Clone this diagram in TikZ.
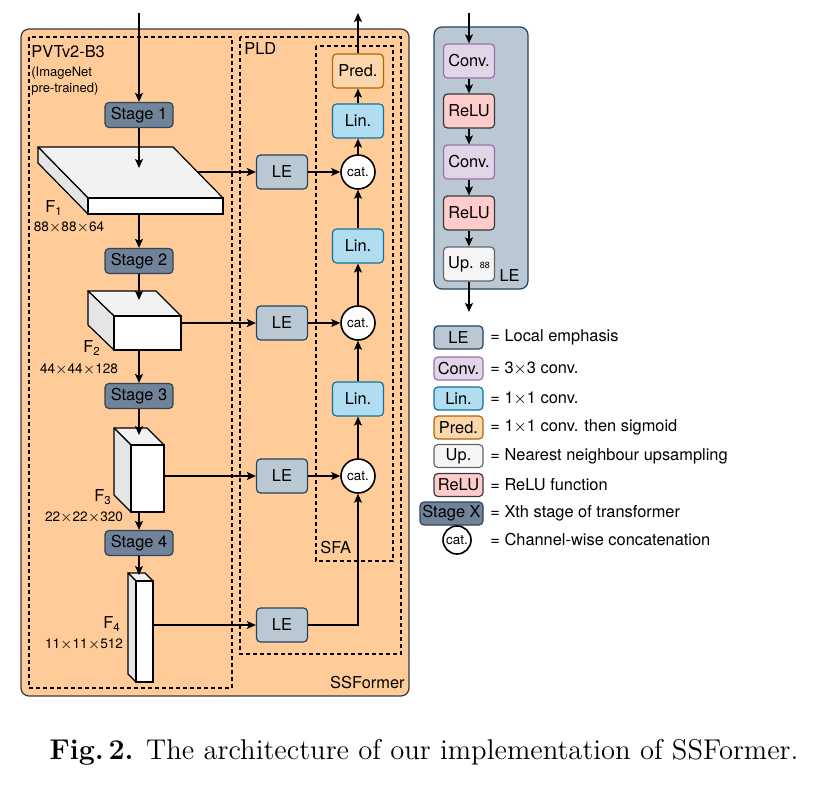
\documentclass[tikz,border=0pt]{standalone}
\usepackage{fontspec}
\setsansfont{TeX Gyre Heros}
\usetikzlibrary{arrows.meta}

\definecolor{ssfill}{HTML}{FFCC99}
\definecolor{ssline}{HTML}{36393D}
\definecolor{stagefill}{RGB}{112,131,153}
\definecolor{stageline}{HTML}{314354}
\definecolor{lefill}{HTML}{BAC8D3}
\definecolor{leline}{HTML}{23445D}
\definecolor{linfill}{HTML}{B1DDF0}
\definecolor{linline}{HTML}{10739E}
\definecolor{predfill}{HTML}{FAD7AC}
\definecolor{predline}{HTML}{B46504}
\definecolor{convfill}{HTML}{E1D5E7}
\definecolor{convline}{HTML}{9673A6}
\definecolor{relufill}{HTML}{FFCCCC}
\definecolor{reluline}{HTML}{36393D}
\definecolor{upfill}{HTML}{F5F5F5}
\definecolor{upline}{HTML}{666666}

\begin{document}
\begin{tikzpicture}[x=0.5pt,y=-0.5pt,
    every node/.style={font=\sffamily\fontsize{8.2}{9.8}\selectfont, inner sep=0pt},
    blockbox/.style={draw, rounded corners=2pt, line width=0.6pt, minimum width=25.5pt, minimum height=17pt},
    stagebox/.style={blockbox, fill=stagefill, draw=stageline, minimum width=34pt, minimum height=12.5pt},
    lebox/.style={blockbox, fill=lefill, draw=leline},
    linbox/.style={blockbox, fill=linfill, draw=linline},
    predbox/.style={blockbox, fill=predfill, draw=predline},
    convbox/.style={blockbox, fill=convfill, draw=convline},
    relubox/.style={blockbox, fill=relufill, draw=reluline},
    upbox/.style={blockbox, fill=upfill, draw=upline},
    legbox/.style={minimum width=24.5pt, minimum height=11.5pt},
    catnode/.style={circle, draw, fill=white, line width=0.8pt, minimum size=17pt, font=\sffamily\fontsize{6.7}{8}\selectfont},
    dimtext/.style={font=\sffamily\fontsize{6.8}{8}\selectfont},
    legtext/.style={anchor=west},
    link/.style={-{Stealth[length=4.5pt,width=4pt,inset=1pt]}, line width=0.6pt},
    dashbox/.style={dash pattern=on 2pt off 1.5pt, line width=0.6pt}]

    \fill[white] (0,0) rectangle (817,785);
    \useasboundingbox (0,0) rectangle (817,785);

    \draw[fill=ssfill, draw=ssline, line width=0.6pt, rounded corners=4pt] (21,29) rectangle (409,696);
    \draw[dashbox] (29,37) rectangle (232,688);
    \draw[dashbox] (240,37) rectangle (401,654);
    \draw[dashbox] (316,46) rectangle (393,561);
    \node[anchor=west] (pvt) at (31,52) {PVTv2-B3};
    \node[anchor=west, align=left, font=\sffamily\fontsize{6.5}{8}\selectfont] (imnet) at (31,81) {(ImageNet\\pre-trained)};
    \node[anchor=west] (pld) at (244,49) {PLD};
    \node[anchor=west] (sfa) at (320,548) {SFA};
    \node[anchor=east] (ssf) at (405,683) {SSFormer};

    \node[stagebox] (s1) at (139,115) {Stage 1};
    \node[stagebox] (s2) at (139,261) {Stage 2};
    \node[stagebox] (s3) at (139,396) {Stage 3};
    \node[stagebox] (s4) at (139,543) {Stage 4};

    \filldraw[fill=black!5, line width=0.6pt, line join=round] (38,147) -- (173,147) -- (223,198) -- (88,198) -- cycle;
    \filldraw[fill=black!10, line width=0.6pt, line join=round] (38,147) -- (88,198) -- (88,214) -- (38,163) -- cycle;
    \filldraw[fill=white, line width=0.6pt] (88,198) rectangle (223,214);
    \filldraw[fill=black!5, line width=0.6pt, line join=round] (88,291) -- (156,291) -- (181,316) -- (114,316) -- cycle;
    \filldraw[fill=black!10, line width=0.6pt, line join=round] (88,291) -- (114,316) -- (114,350) -- (88,325) -- cycle;
    \filldraw[fill=white, line width=0.6pt] (114,316) rectangle (181,350);
    \filldraw[fill=black!5, line width=0.6pt, line join=round] (114,428) -- (147,428) -- (164,445) -- (131,445) -- cycle;
    \filldraw[fill=black!10, line width=0.6pt, line join=round] (114,428) -- (131,445) -- (131,512) -- (114,495) -- cycle;
    \filldraw[fill=white, line width=0.6pt] (131,445) rectangle (164,512);
    \filldraw[fill=black!5, line width=0.6pt, line join=round] (128,573) -- (145,573) -- (153,581) -- (136,581) -- cycle;
    \filldraw[fill=black!10, line width=0.6pt, line join=round] (128,573) -- (136,581) -- (136,682) -- (128,674) -- cycle;
    \filldraw[fill=white, line width=0.6pt] (136,581) rectangle (153,682);

    \node (f1) at (54,208) {F\textsubscript{1}};
    \node[dimtext] (d1) at (69,228) {88$\times$88$\times$64};
    \node (f2) at (92,348) {F\textsubscript{2}};
    \node[dimtext] (d2) at (79,370) {44$\times$44$\times$128};
    \node (f3) at (103,497) {F\textsubscript{3}};
    \node[dimtext] (d3) at (84,518) {22$\times$22$\times$320};
    \node (f4) at (112,624) {F\textsubscript{4}};
    \node[dimtext] (d4) at (84,645) {11$\times$11$\times$512};

    \coordinate (in) at (139,13);
    \coordinate (f1top) at (139,168);
    \coordinate (f1bot) at (139,214);
    \coordinate (f2top) at (139,300);
    \coordinate (f2bot) at (139,350);
    \coordinate (f3top) at (139,435);
    \coordinate (f3bot) at (139,512);
    \coordinate (f4top) at (139,575);
    \coordinate (f1out) at (198,172);
    \coordinate (f2out) at (181,323);
    \coordinate (f3out) at (164,476);
    \coordinate (f4out) at (153,625);
    \coordinate (out) at (358,13);

    \node[lebox] (le1) at (282,172) {LE};
    \node[lebox] (le2) at (282,323) {LE};
    \node[lebox] (le3) at (282,476) {LE};
    \node[lebox] (le4) at (282,625) {LE};
    \node[catnode] (cat1) at (358,172) {cat.};
    \node[catnode] (cat2) at (358,323) {cat.};
    \node[catnode] (cat3) at (358,476) {cat.};
    \node[linbox] (lin1) at (358,121) {Lin.};
    \node[linbox] (lin2) at (358,246) {Lin.};
    \node[linbox] (lin3) at (358,399) {Lin.};
    \node[predbox] (pred) at (358,71) {Pred.};

    \draw[link] (in) -- (s1);
    \draw[link] (s1) -- (f1top);
    \draw[link] (f1bot) -- (s2);
    \draw[link] (s2) -- (f2top);
    \draw[link] (f2bot) -- (s3);
    \draw[link] (s3) -- (f3top);
    \draw[link] (f3bot) -- (s4);
    \draw[link] (s4) -- (f4top);
    \draw[link] (f1out) -- (le1);
    \draw[link] (f2out) -- (le2);
    \draw[link] (f3out) -- (le3);
    \draw[link] (f4out) -- (le4);
    \draw[link] (le1) -- (cat1);
    \draw[link] (le2) -- (cat2);
    \draw[link] (le3) -- (cat3);
    \draw[link] (le4) -| (cat3);
    \draw[link] (cat3) -- (lin3);
    \draw[link] (lin3) -- (cat2);
    \draw[link] (cat2) -- (lin2);
    \draw[link] (lin2) -- (cat1);
    \draw[link] (cat1) -- (lin1);
    \draw[link] (lin1) -- (pred);
    \draw[link] (pred) -- (out);

    \draw[fill=lefill, draw=leline, line width=0.6pt, rounded corners=4pt] (434,27) rectangle (528,289);
    \node[anchor=east] (lelab) at (520,276) {LE};
    \coordinate (lein) at (469,13);
    \coordinate (leout) at (469,312);
    \node[convbox] (c1) at (469,61) {Conv.};
    \node[relubox] (r1) at (469,111) {ReLU};
    \node[convbox] (c2) at (469,162) {Conv.};
    \node[relubox] (r2) at (469,213) {ReLU};
    \node[upbox] (up) at (469,264) {Up. {\fontsize{4.5}{5}\selectfont 88}};
    \draw[link] (lein) -- (c1);
    \draw[link] (c1) -- (r1);
    \draw[link] (r1) -- (c2);
    \draw[link] (c2) -- (r2);
    \draw[link] (r2) -- (up);
    \draw[link] (up) -- (leout);

    \node[lebox, legbox] (kle) at (458.5,337.5) {LE};
    \node[convbox, legbox] (kconv) at (458.5,368.5) {Conv.};
    \node[linbox, legbox] (klin) at (458.5,398.5) {Lin.};
    \node[predbox, legbox] (kpred) at (458.5,427.5) {Pred.};
    \node[upbox, legbox] (kup) at (458.5,456) {Up.};
    \node[relubox, legbox] (krelu) at (458.5,485) {ReLU};
    \node[stagebox, legbox, minimum width=31.5pt] (kstage) at (451.5,513.5) {Stage X};
    \node[catnode, minimum size=14pt] (kcat) at (457,540) {cat.};
    \node[legtext] (tle) at (490,337.5) {= Local emphasis};
    \node[legtext] (tconv) at (490,368.5) {= 3$\times$3 conv.};
    \node[legtext] (tlin) at (490,398.5) {= 1$\times$1 conv.};
    \node[legtext] (tpred) at (490,427.5) {= 1$\times$1 conv. then sigmoid};
    \node[legtext] (tup) at (490,456) {= Nearest neighbour upsampling};
    \node[legtext] (trelu) at (490,485) {= ReLU function};
    \node[legtext] (tstage) at (490,513.5) {= Xth stage of transformer};
    \node[legtext] (tcat) at (490,540) {= Channel-wise concatenation};

    \node[font=\rmfamily\fontsize{14.3}{17}\selectfont] (cap) at (424,752) {\textbf{Fig.\,2.} The architecture of our implementation of SSFormer.};
\end{tikzpicture}
\end{document}
